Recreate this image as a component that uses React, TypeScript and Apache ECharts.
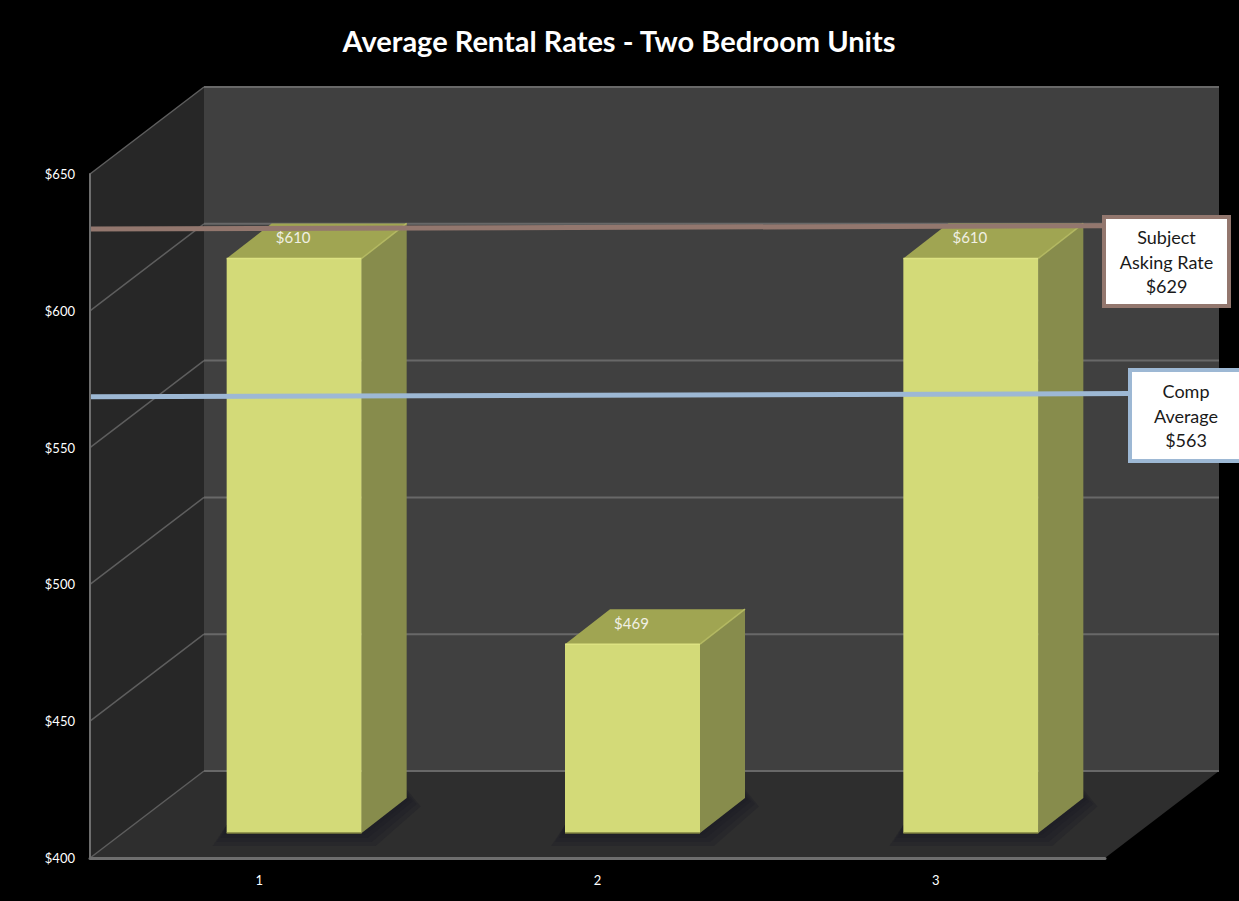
import React, { useEffect, useRef } from "react";
import * as echarts from "echarts";

const FONT = "Lato, 'Open Sans', sans-serif";

const categories = ["1", "2", "3"];
const rentValues = [610, 469, 610];
const subjectRate = 629;
const compAverage = 563;
const subjectLines = ["Subject", "Asking Rate", "$629"];
const compLines = ["Comp", "Average", "$563"];
const axisMin = 400;
const axisMax = 650;
const axisStep = 50;
const titleText = "Average Rental Rates - Two Bedroom Units";

// Projection of the 3D box: how far the back wall sits from the front plane,
// where the bars stand inside the box, and how deep each bar is.
const WALL_DX = 114;
const WALL_DY = -87;
const BAR_DX = 35;
const BAR_DY = -25;
const BAR_DEPTH_X = 45;
const BAR_DEPTH_Y = -35;
const BAR_WIDTH = 135;

function renderBox(params: any, api: any) {
  const { x, y, width, height } = params.coordSys;
  const left = x;
  const right = x + width;
  const bottom = y + height;
  const children: any[] = [
    {
      type: "polygon",
      shape: { points: [[left + WALL_DX, y + WALL_DY], [right + WALL_DX, y + WALL_DY], [right + WALL_DX, bottom + WALL_DY], [left + WALL_DX, bottom + WALL_DY]] },
      style: { fill: "#404040" },
    },
    {
      type: "polygon",
      shape: { points: [[left, y], [left + WALL_DX, y + WALL_DY], [left + WALL_DX, bottom + WALL_DY], [left, bottom]] },
      style: { fill: "#272727" },
    },
    {
      type: "polygon",
      shape: { points: [[left, bottom], [left + WALL_DX, bottom + WALL_DY], [right + WALL_DX, bottom + WALL_DY], [right, bottom]] },
      style: { fill: "#2e2e2e" },
    },
  ];
  for (let v = axisMin; v <= axisMax; v += axisStep) {
    const py = api.coord([0, v])[1];
    children.push({
      type: "line",
      shape: { x1: left + WALL_DX, y1: py + WALL_DY, x2: right + WALL_DX, y2: py + WALL_DY },
      style: { stroke: "#686868", lineWidth: 2 },
    });
    children.push({
      type: "line",
      shape: { x1: left, y1: py, x2: left + WALL_DX, y2: py + WALL_DY },
      style: { stroke: "#5e5e5e", lineWidth: 1.5 },
    });
  }
  return { type: "group", children };
}

// Soft contact shadow built from stacked translucent footprints.
function shadowLayers(x0: number, x1: number, yb: number, dx: number, dy: number) {
  return [14, 10, 6, 3].map((g) => ({
    type: "polygon",
    shape: {
      points: [
        [x0 - g, yb + g - 1],
        [x1 + g, yb + g - 1],
        [x1 + dx + g, yb + dy + g * 0.6],
        [x1 + dx, yb + dy - g * 0.6],
        [x1, yb - 8],
        [x0, yb - 8],
      ],
    },
    style: { fill: "rgba(28,28,38,0.32)" },
  }));
}

function renderBar(params: any, api: any) {
  const base = api.coord([api.value(0), axisMin]);
  const top = api.coord([api.value(0), api.value(1)]);
  const x0 = base[0] + BAR_DX - BAR_WIDTH / 2;
  const x1 = x0 + BAR_WIDTH;
  const yb = base[1] + BAR_DY;
  const yt = top[1] + BAR_DY;
  const dx = BAR_DEPTH_X;
  const dy = BAR_DEPTH_Y;
  return {
    type: "group",
    children: [
      ...shadowLayers(x0, x1, yb, dx, dy),
      {
        type: "polygon",
        shape: { points: [[x0, yt], [x0 + dx, yt + dy], [x1 + dx, yt + dy], [x1, yt]] },
        style: { fill: "#a0a552" },
      },
      {
        type: "polygon",
        shape: { points: [[x1, yt], [x1 + dx, yt + dy], [x1 + dx, yb + dy], [x1, yb]] },
        style: { fill: "#878c4c" },
      },
      {
        type: "rect",
        shape: { x: x0, y: yt, width: BAR_WIDTH, height: yb - yt },
        style: { fill: "#d3da78" },
      },
      {
        type: "line",
        shape: { x1: x0, y1: yt, x2: x1, y2: yt },
        style: { stroke: "#dde382", lineWidth: 1.5 },
      },
      {
        type: "line",
        shape: { x1: x1, y1: yt, x2: x1 + dx, y2: yt + dy },
        style: { stroke: "#b4b962", lineWidth: 1.5 },
      },
      {
        type: "line",
        shape: { x1: x0, y1: yb, x2: x1, y2: yb },
        style: { stroke: "#7f8240", lineWidth: 1.5 },
      },
      {
        type: "text",
        x: (x0 + x1) / 2 - 1,
        y: yt - 21,
        style: {
          text: "$" + api.value(1),
          fill: "#f0f0e4",
          fontSize: 15,
          fontFamily: FONT,
          align: "center",
          verticalAlign: "middle",
          textAlign: "center",
          textVerticalAlign: "middle",
        },
      },
    ],
  };
}

// A reference line with its callout box; the slight tilt is part of the drawing.
function renderCallout(lines: string[], color: string, box: number[]) {
  return (params: any, api: any) => {
    const py = api.coord([0, api.value(1)])[1];
    const [bx, by, bw, bh] = box;
    const left = params.coordSys.x;
    const children: any[] = [
      {
        type: "line",
        shape: { x1: left + 1, y1: py + 1.6, x2: bx, y2: py - 1.6 },
        style: { stroke: color, lineWidth: 5 },
      },
      {
        type: "rect",
        shape: { x: bx, y: by, width: bw, height: bh },
        style: { fill: "#ffffff", stroke: color, lineWidth: 4 },
      },
    ];
    lines.forEach((t, i) => {
      children.push({
        type: "text",
        x: bx + bw / 2,
        y: by + bh / 2 + (i - 1) * 24.5,
        style: {
          text: t,
          fill: "#1a1a1a",
          fontSize: 18,
          fontFamily: FONT,
          align: "center",
          verticalAlign: "middle",
          textAlign: "center",
          textVerticalAlign: "middle",
        },
      });
    });
    return { type: "group", children };
  };
}

export default function App() {
  const ref = useRef<HTMLDivElement>(null);

  useEffect(() => {
    document.body.style.margin = "0";
    document.body.style.overflow = "hidden";
    document.body.style.background = "#000";
    const chart = echarts.init(ref.current!, null, { renderer: "svg" });
    chart.setOption({
      animation: false,
      backgroundColor: "#000000",
      title: {
        text: titleText,
        left: 614,
        top: 21,
        textAlign: "center",
        textStyle: { color: "#ffffff", fontFamily: FONT, fontWeight: "bold", fontSize: 29 },
      },
      grid: { left: 90, right: 134, top: 174, bottom: 43 },
      xAxis: {
        type: "category",
        data: categories,
        z: 3,
        axisLine: { lineStyle: { color: "#6e6e6e", width: 3 } },
        axisTick: { show: false },
        axisLabel: { color: "#ffffff", fontFamily: FONT, fontSize: 13, margin: 15 },
      },
      yAxis: [
        {
          type: "value",
          min: axisMin,
          max: axisMax,
          interval: axisStep,
          z: 3,
          splitLine: { show: false },
          axisLine: { show: true, lineStyle: { color: "#6e6e6e", width: 2 } },
          axisTick: { show: false },
          axisLabel: {
            color: "#ffffff",
            fontFamily: FONT,
            fontSize: 13,
            margin: 15,
            formatter: (v: number) => "$" + v,
          },
        },
        // Separate scale for the two hand-placed reference lines.
        { type: "value", min: 381, max: 650, show: false, splitLine: { show: false } },
      ],
      series: [
        {
          type: "custom",
          z: 1,
          clip: false,
          silent: true,
          data: [[0, axisMin]],
          renderItem: renderBox,
        },
        {
          type: "custom",
          z: 4,
          clip: false,
          silent: true,
          data: rentValues.map((v, i) => [i, v]),
          renderItem: renderBar,
        },
        {
          type: "custom",
          z: 5,
          clip: false,
          silent: true,
          yAxisIndex: 1,
          data: [[0, subjectRate]],
          renderItem: renderCallout(subjectLines, "#93776e", [1104, 217, 125, 89]),
        },
        {
          type: "custom",
          z: 5,
          clip: false,
          silent: true,
          yAxisIndex: 1,
          data: [[0, compAverage]],
          renderItem: renderCallout(compLines, "#9db8d4", [1130, 370, 112, 91]),
        },
      ],
    });
    return () => chart.dispose();
  }, []);

  return <div ref={ref} style={{ width: 1239, height: 901 }} />;
}
